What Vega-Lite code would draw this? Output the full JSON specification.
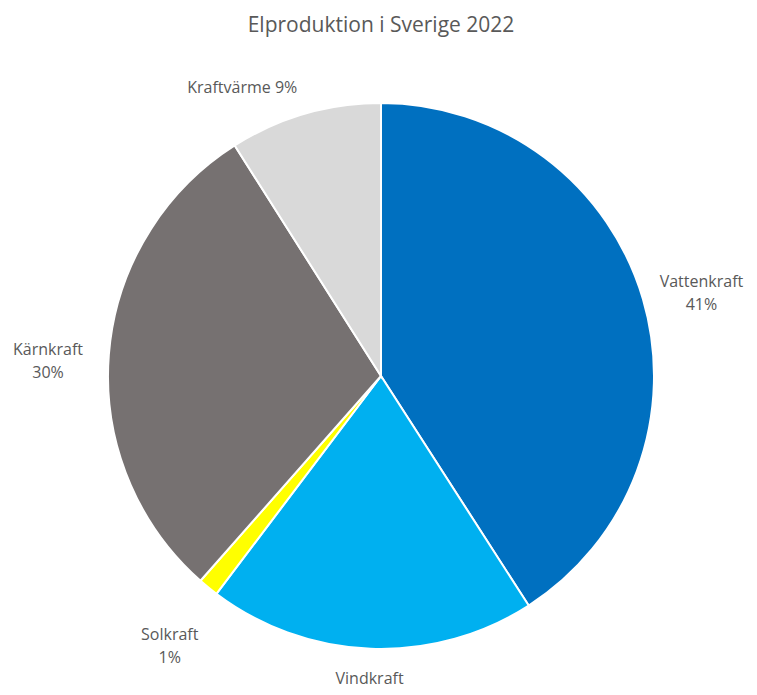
{
  "$schema": "https://vega.github.io/schema/vega-lite/v6.json",
  "autosize": "none",
  "width": 762,
  "height": 638,
  "padding": {"top": 57, "left": 0, "right": 0, "bottom": 0},
  "background": "white",
  "title": {
    "text": "Elproduktion i Sverige 2022",
    "font": "Open Sans",
    "fontSize": 21,
    "fontWeight": "normal",
    "color": "#595959",
    "anchor": "middle",
    "offset": 11
  },
  "data": {
    "values": [
      {"kalla": "Vattenkraft", "andel": 40.9, "order": 1, "side": "outer", "label": ["Vattenkraft", "41%"]},
      {"kalla": "Vindkraft", "andel": 19.4, "order": 2, "side": "bottom", "label": ["Vindkraft", "19%"]},
      {"kalla": "Solkraft", "andel": 1.2, "order": 3, "side": "outer", "label": ["Solkraft", "1%"]},
      {"kalla": "Kärnkraft", "andel": 29.5, "order": 4, "side": "outer", "label": ["Kärnkraft", "30%"]},
      {"kalla": "Kraftvärme", "andel": 9.0, "order": 5, "side": "top", "label": ["Kraftvärme 9%"]}
    ]
  },
  "encoding": {
    "theta": {"field": "andel", "type": "quantitative", "stack": true},
    "order": {"field": "order", "type": "quantitative"}
  },
  "layer": [
    {
      "mark": {"type": "arc", "outerRadius": 273, "stroke": "white", "strokeWidth": 2},
      "encoding": {
        "color": {
          "field": "kalla",
          "type": "nominal",
          "scale": {
            "domain": ["Vattenkraft", "Vindkraft", "Solkraft", "Kärnkraft", "Kraftvärme"],
            "range": ["#0070C0", "#00B0F0", "#FFFF00", "#767171", "#D9D9D9"]
          },
          "legend": null
        }
      }
    },
    {
      "mark": {"type": "text", "radius": 334, "font": "Open Sans", "fontSize": 16, "color": "#595959", "baseline": "middle", "align": "center", "lineHeight": 23},
      "encoding": {
        "text": {"condition": {"test": "datum.side === 'outer'", "field": "label"}, "value": ""}
      }
    },
    {
      "mark": {"type": "text", "radius": 303, "font": "Open Sans", "fontSize": 16, "color": "#595959", "baseline": "middle", "align": "center", "lineHeight": 23},
      "encoding": {
        "text": {"condition": {"test": "datum.side === 'bottom'", "field": "label"}, "value": ""}
      }
    },
    {
      "mark": {"type": "text", "radius": 300, "font": "Open Sans", "fontSize": 16, "color": "#595959", "baseline": "middle", "align": "right", "lineHeight": 23},
      "encoding": {
        "text": {"condition": {"test": "datum.side === 'top'", "field": "label"}, "value": ""}
      }
    }
  ],
  "config": {"view": {"stroke": null}}
}
